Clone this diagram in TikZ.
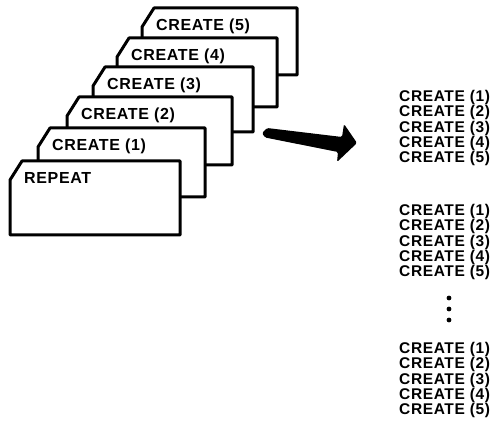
\documentclass[tikz,border=0pt]{standalone}
\usepackage{fontspec}
\setmainfont{Liberation Sans}
\newfontfamily\cardfont[LetterSpace=4]{Liberation Sans}
\usepackage{tikz}

\begin{document}
\begin{tikzpicture}[x=1pt,y=-1pt,
  cardbox/.style={fill=white,draw=black,line width=3pt,line join=round},
  cardtext/.style={anchor=base west,inner sep=0pt,font=\cardfont\bfseries\fontsize{16}{16}\selectfont},
  listtext/.style={anchor=base west,inner sep=0pt,font=\cardfont\bfseries\fontsize{15.5}{15.5}\selectfont}]
  \useasboundingbox (0,0) rectangle (500,427);
  % ---- left: stack of cards, back card first
  \foreach \i/\l/\t/\r/\b/\txt in {5/142/8/297/75/CREATE (5),4/117/38/277/107/CREATE (4),
      3/93/67/253/132/CREATE (3),2/67/97/232/165/CREATE (2),1/38/128/205/197/CREATE (1),
      0/10/161/180/235/REPEAT}{
    \draw[cardbox] (\l,\t+19) -- (\l+12,\t) -- (\r,\t) -- (\r,\b) -- (\l,\b) -- cycle;
    \node[cardtext] (card\i) at (\l+14,\t+23) {\txt};
  }
  % ---- fat arrow
  \fill[rounded corners=1.5pt] (262,133) -- (267,128) -- (342,137) -- (344,124)
    -- (357,143) -- (337,162) -- (338,152) -- (265,137.5) -- cycle;
  % ---- right: the unrolled list
  \foreach \g/\y in {a/96,b/210,c/348}
    \foreach \k in {1,...,5}
      \node[listtext] (\g\k) at (399,\y+15.3*\k-9.8) {CREATE (\k)};
  \foreach \d in {298,309,320}
    \fill (449,\d) circle (2.4pt);
\end{tikzpicture}
\end{document}
